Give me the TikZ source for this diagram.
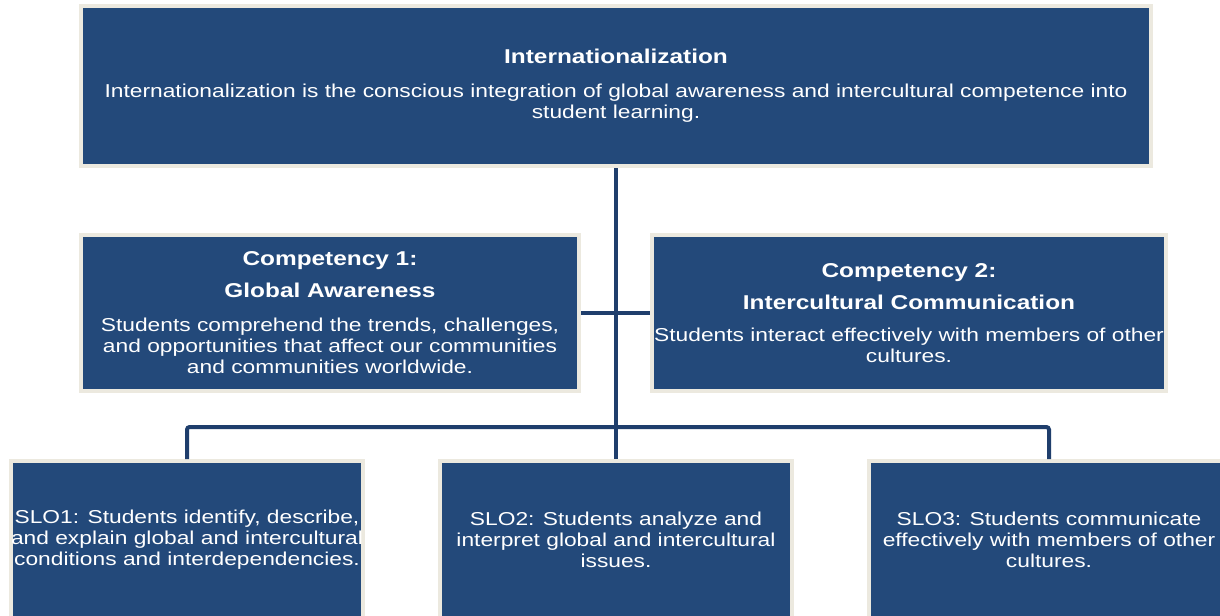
\documentclass[tikz,border=0pt]{standalone}
\usepackage{fontspec}
\setmainfont{Liberation Sans}[FakeStretch=1.22]
\definecolor{boxblue}{HTML}{23497A}
\definecolor{boxrim}{HTML}{ECE9DF}
\definecolor{linkblue}{HTML}{1F3E6C}
\begin{document}
\begin{tikzpicture}[x=0.75pt,y=-0.75pt,
  box/.style={draw=boxrim,line width=3pt,fill=boxblue,text=white,inner sep=0pt,
    align=center,font=\fontsize{14}{15.75}\selectfont},
  conn/.style={draw=linkblue,line width=3pt}]
\useasboundingbox[fill=white] (0,0) rectangle (1220,615);
\node[box,minimum width=802.5pt,minimum height=120pt] (top) at (616,86)
  {{\bfseries\fontsize{15}{15.75}\selectfont Internationalization}\\[9.5pt]
   Internationalization is the conscious integration of global awareness and intercultural competence into\\
   student learning.};
\node[box,minimum width=373.5pt,minimum height=117pt] (c1) at (330,313)
  {{\bfseries\fontsize{15}{15.75}\selectfont Competency 1:}\\[8.25pt]
   {\bfseries\fontsize{15}{15.75}\selectfont Global Awareness}\\[9.75pt]
   Students comprehend the trends, challenges,\\
   and opportunities that affect our communities\\
   and communities worldwide.};
\node[box,minimum width=385.5pt,minimum height=117pt] (c2) at (909,313)
  {{\bfseries\fontsize{15}{15.75}\selectfont Competency 2:}\\[8.25pt]
   {\bfseries\fontsize{15}{15.75}\selectfont Intercultural Communication}\\[8.25pt]
   Students interact effectively with members of other\\
   cultures.};
\node[box,minimum width=264pt,minimum height=118.5pt] (s1) at (187,540)
  {SLO1: Students identify, describe,\\
   and explain global and intercultural\\
   conditions and interdependencies.};
\node[box,minimum width=264pt,minimum height=118.5pt] (s2) at (616,540)
  {SLO2: Students analyze and\\
   interpret global and intercultural\\
   issues.};
\node[box,minimum width=270pt,minimum height=118.5pt] (s3) at (1049,540)
  {SLO3: Students communicate\\
   effectively with members of other\\
   cultures.};
\coordinate (bus) at (616,427);
\draw[conn] (top.south) -- (s2.north);
\draw[conn] (c1.east) -- (c2.west);
\draw[conn,rounded corners=2pt] (s1.north) |- (bus) -| (s3.north);
\end{tikzpicture}
\end{document}
